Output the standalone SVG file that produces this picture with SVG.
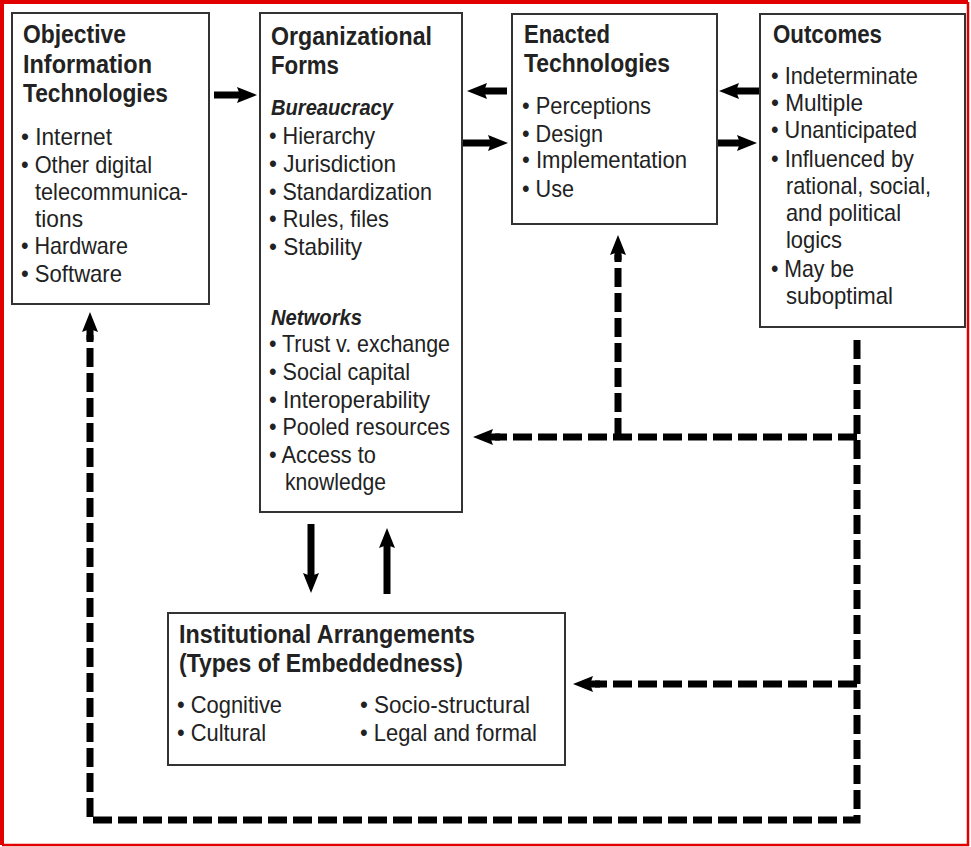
<svg xmlns="http://www.w3.org/2000/svg" width="971" height="847" viewBox="0 0 971 847">
<defs>
<style>
.box{fill:#fff;stroke:#333;stroke-width:2}
.t{font-family:"Liberation Sans",Arial,sans-serif;font-weight:bold;font-size:25px;fill:#222}
.st{font-family:"Liberation Sans",Arial,sans-serif;font-weight:bold;font-style:italic;font-size:22px;fill:#222}
.b{font-family:"Liberation Sans",Arial,sans-serif;font-size:24px;fill:#222}
.solid{stroke:#000;stroke-width:7;fill:none;marker-end:url(#ah)}
.dash{stroke:#000;stroke-width:7;fill:none;stroke-dasharray:19 6}
.dashA{stroke:#000;stroke-width:7;fill:none;stroke-dasharray:19 6;marker-end:url(#ah)}
</style>
<marker id="ah" markerUnits="userSpaceOnUse" markerWidth="22" markerHeight="18" viewBox="0 -9 22 18" refX="8" refY="0" orient="auto">
<path d="M0,-8 L20,0 L0,8 L3,0 z" fill="#000"/>
</marker>
</defs>
<rect x="0" y="0" width="971" height="847" fill="#fff"/>
<path d="M2,845 V2 H968" fill="none" stroke="#e00000" stroke-width="4"/>
<path d="M968,2 V845 H2" fill="none" stroke="#e00000" stroke-width="2.5"/>

<g id="connectors">
<path class="solid" d="M214,95 H245"/>
<path class="solid" d="M507,91 H479"/>
<path class="solid" d="M463,143 H496"/>
<path class="solid" d="M760,91 H731"/>
<path class="solid" d="M717,143 H745"/>
<path class="solid" d="M311,524 V581"/>
<path class="solid" d="M387,594 V540"/>
<path class="dash" d="M857,340 V820 H90 V335"/>
<path class="dashA" d="M90,340 V324"/>
<path class="dash" d="M857,437 H495"/>
<path class="dashA" d="M500,437 H485"/>
<path class="dash" d="M618,437 V255"/>
<path class="dashA" d="M618,260 V247"/>
<path class="dash" d="M857,684 H595"/>
<path class="dashA" d="M600,684 H585"/>
</g>

<g id="objective-it">
<rect class="box" x="12" y="13" width="197" height="291"/>
<text class="t" x="23" y="43" textLength="103" lengthAdjust="spacingAndGlyphs">Objective</text>
<text class="t" x="23" y="73" textLength="129" lengthAdjust="spacingAndGlyphs">Information</text>
<text class="t" x="23" y="102" textLength="145" lengthAdjust="spacingAndGlyphs">Technologies</text>
<text class="b" x="21" y="145" textLength="91" lengthAdjust="spacingAndGlyphs">• Internet</text>
<text class="b" x="21" y="173" textLength="131" lengthAdjust="spacingAndGlyphs">• Other digital</text>
<text class="b" x="35" y="200" textLength="153" lengthAdjust="spacingAndGlyphs">telecommunica-</text>
<text class="b" x="35" y="227" textLength="48" lengthAdjust="spacingAndGlyphs">tions</text>
<text class="b" x="21" y="254" textLength="107" lengthAdjust="spacingAndGlyphs">• Hardware</text>
<text class="b" x="21" y="282" textLength="101" lengthAdjust="spacingAndGlyphs">• Software</text>
</g>

<g id="organizational-forms">
<rect class="box" x="260" y="13" width="202" height="499"/>
<text class="t" x="271" y="45" textLength="161" lengthAdjust="spacingAndGlyphs">Organizational</text>
<text class="t" x="271" y="74" textLength="68" lengthAdjust="spacingAndGlyphs">Forms</text>
<text class="st" x="271" y="115" textLength="122" lengthAdjust="spacingAndGlyphs">Bureaucracy</text>
<text class="b" x="269" y="144" textLength="106" lengthAdjust="spacingAndGlyphs">• Hierarchy</text>
<text class="b" x="269" y="172" textLength="127" lengthAdjust="spacingAndGlyphs">• Jurisdiction</text>
<text class="b" x="269" y="200" textLength="163" lengthAdjust="spacingAndGlyphs">• Standardization</text>
<text class="b" x="269" y="227" textLength="120" lengthAdjust="spacingAndGlyphs">• Rules, files</text>
<text class="b" x="269" y="255" textLength="93" lengthAdjust="spacingAndGlyphs">• Stability</text>
<text class="st" x="271" y="325" textLength="91" lengthAdjust="spacingAndGlyphs">Networks</text>
<text class="b" x="269" y="352" textLength="181" lengthAdjust="spacingAndGlyphs">• Trust v. exchange</text>
<text class="b" x="269" y="380" textLength="141" lengthAdjust="spacingAndGlyphs">• Social capital</text>
<text class="b" x="269" y="408" textLength="161" lengthAdjust="spacingAndGlyphs">• Interoperability</text>
<text class="b" x="269" y="435" textLength="181" lengthAdjust="spacingAndGlyphs">• Pooled resources</text>
<text class="b" x="269" y="463" textLength="107" lengthAdjust="spacingAndGlyphs">• Access to</text>
<text class="b" x="285" y="490" textLength="101" lengthAdjust="spacingAndGlyphs">knowledge</text>
</g>

<g id="enacted-technologies">
<rect class="box" x="512" y="14" width="205" height="210"/>
<text class="t" x="524" y="43" textLength="86" lengthAdjust="spacingAndGlyphs">Enacted</text>
<text class="t" x="524" y="72" textLength="146" lengthAdjust="spacingAndGlyphs">Technologies</text>
<text class="b" x="522" y="114" textLength="129" lengthAdjust="spacingAndGlyphs">• Perceptions</text>
<text class="b" x="522" y="142" textLength="81" lengthAdjust="spacingAndGlyphs">• Design</text>
<text class="b" x="522" y="168" textLength="165" lengthAdjust="spacingAndGlyphs">• Implementation</text>
<text class="b" x="522" y="197" textLength="52" lengthAdjust="spacingAndGlyphs">• Use</text>
</g>

<g id="outcomes">
<rect class="box" x="760" y="14" width="205" height="313"/>
<text class="t" x="773" y="43" textLength="109" lengthAdjust="spacingAndGlyphs">Outcomes</text>
<text class="b" x="771" y="84" textLength="147" lengthAdjust="spacingAndGlyphs">• Indeterminate</text>
<text class="b" x="771" y="111" textLength="92" lengthAdjust="spacingAndGlyphs">• Multiple</text>
<text class="b" x="771" y="138" textLength="146" lengthAdjust="spacingAndGlyphs">• Unanticipated</text>
<text class="b" x="771" y="167" textLength="143" lengthAdjust="spacingAndGlyphs">• Influenced by</text>
<text class="b" x="786" y="194" textLength="145" lengthAdjust="spacingAndGlyphs">rational, social,</text>
<text class="b" x="786" y="221" textLength="115" lengthAdjust="spacingAndGlyphs">and political</text>
<text class="b" x="786" y="248" textLength="56" lengthAdjust="spacingAndGlyphs">logics</text>
<text class="b" x="771" y="277" textLength="83" lengthAdjust="spacingAndGlyphs">• May be</text>
<text class="b" x="786" y="304" textLength="107" lengthAdjust="spacingAndGlyphs">suboptimal</text>
</g>

<g id="institutional-arrangements">
<rect class="box" x="168" y="613" width="397" height="152"/>
<text class="t" x="179" y="643" textLength="296" lengthAdjust="spacingAndGlyphs">Institutional Arrangements</text>
<text class="t" x="179" y="672" textLength="284" lengthAdjust="spacingAndGlyphs">(Types of Embeddedness)</text>
<text class="b" x="177" y="713" textLength="105" lengthAdjust="spacingAndGlyphs">• Cognitive</text>
<text class="b" x="177" y="741" textLength="89" lengthAdjust="spacingAndGlyphs">• Cultural</text>
<text class="b" x="360" y="713" textLength="170" lengthAdjust="spacingAndGlyphs">• Socio-structural</text>
<text class="b" x="360" y="741" textLength="177" lengthAdjust="spacingAndGlyphs">• Legal and formal</text>
</g>
</svg>
